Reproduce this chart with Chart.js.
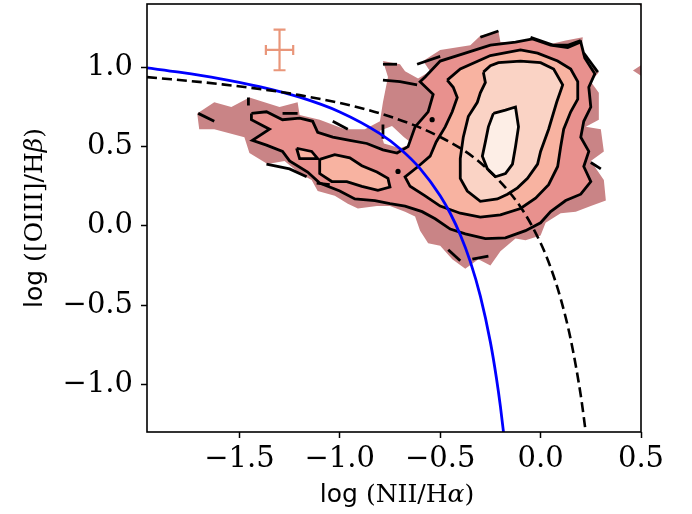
<!DOCTYPE html>
<html>
<head>
<meta charset="utf-8">
<script src="https://cdn.jsdelivr.net/npm/chart.js@4.4.0/dist/chart.umd.min.js"></script>
<style>html,body{margin:0;padding:0;background:#fff}</style>
</head>
<body>
<canvas id="c" width="692" height="514"></canvas>
<script>
// Axis limits and tick values
const xLimits = [-1.96, 0.5];
const yLimits = [-1.3, 1.4];
const xTicks = [-1.5, -1.0, -0.5, 0.0, 0.5];
const yTicks = [-1.0, -0.5, 0.0, 0.5, 1.0];

// Kauffmann et al. (2003) demarcation, sampled
const kauffX = [-1.96, -1.8, -1.6, -1.4, -1.2, -1.0, -0.8, -0.7, -0.6, -0.5, -0.45, -0.4, -0.35, -0.3, -0.25, -0.22, -0.2, -0.18];
const kauffY = [0.997, 0.970, 0.930, 0.879, 0.812, 0.719, 0.582, 0.487, 0.362, 0.191, 0.080, -0.056, -0.225, -0.443, -0.733, -0.959, -1.140, -1.352];

// Kewley et al. (2001) maximum starburst line, sampled
const kewleyX = [-1.96, -1.6, -1.2, -0.8, -0.5, -0.3, -0.1, 0.0, 0.05, 0.1, 0.15, 0.2, 0.23];
const kewleyY = [0.939, 0.895, 0.825, 0.710, 0.561, 0.398, 0.120, -0.108, -0.262, -0.459, -0.716, -1.069, -1.352];

// Typical uncertainty marker
const errCenter = [-1.30, 1.11];
const errHalf = [0.068, 0.128];

// Density contour levels (outermost to innermost)
const level1 = [[-1.71,0.71],[-1.625,0.78],[-1.54,0.75],[-1.45,0.81],[-1.375,0.78],[-1.30,0.75],[-1.21,0.78],[-1.20,0.70],[-1.10,0.67],[-0.975,0.61],[-0.875,0.61],[-0.80,0.66],[-0.785,0.78],[-0.76,0.94],[-0.785,1.04],[-0.70,1.02],[-0.675,0.975],[-0.61,0.93],[-0.55,0.975],[-0.585,1.04],[-0.50,1.11],[-0.35,1.14],[-0.30,1.20],[-0.21,1.23],[-0.20,1.16],[-0.10,1.16],[0.025,1.14],[0.125,1.17],[0.21,1.19],[0.20,1.06],[0.29,0.97],[0.25,0.91],[0.29,0.84],[0.29,0.67],[0.225,0.625],[0.30,0.61],[0.315,0.47],[0.25,0.41],[0.315,0.29],[0.325,0.16],[0.25,0.125],[0.175,0.09],[0.10,0.08],[0.025,0.02],[0.0,-0.06],[-0.075,-0.09],[-0.125,-0.08],[-0.20,-0.16],[-0.25,-0.25],[-0.31,-0.21],[-0.375,-0.27],[-0.44,-0.21],[-0.50,-0.125],[-0.56,-0.11],[-0.60,-0.03],[-0.625,0.06],[-0.675,0.09],[-0.75,0.125],[-0.815,0.125],[-0.91,0.11],[-0.96,0.14],[-1.025,0.19],[-1.11,0.22],[-1.14,0.29],[-1.20,0.33],[-1.275,0.41],[-1.36,0.39],[-1.45,0.46],[-1.475,0.56],[-1.625,0.61],[-1.70,0.61]];
const level1b = [[0.46,0.98],[0.52,1.03],[0.52,0.93]];
const level1c = [[0.48,1.41],[0.52,1.36],[0.52,1.42]];
const gaps = [
  [[-0.80,0.60],[-0.74,0.63],[-0.68,0.56],[-0.64,0.52],[-0.70,0.49],[-0.78,0.52]]
];
const level2 = [[-1.44,0.71],[-1.365,0.72],[-1.285,0.67],[-1.20,0.68],[-1.135,0.66],[-1.11,0.59],[-1.035,0.56],[-0.95,0.54],[-0.865,0.52],[-0.785,0.48],[-0.715,0.46],[-0.66,0.50],[-0.625,0.625],[-0.56,0.72],[-0.535,0.83],[-0.60,0.91],[-0.575,0.94],[-0.50,1.04],[-0.375,1.09],[-0.25,1.14],[-0.125,1.16],[-0.04,1.18],[0.05,1.14],[0.135,1.125],[0.20,1.16],[0.22,1.06],[0.27,0.96],[0.24,0.875],[0.25,0.75],[0.215,0.66],[0.20,0.56],[0.24,0.47],[0.215,0.375],[0.25,0.28],[0.20,0.20],[0.125,0.16],[0.05,0.09],[0.0,0.02],[-0.075,-0.03],[-0.175,-0.075],[-0.275,-0.08],[-0.375,-0.05],[-0.45,-0.02],[-0.525,0.045],[-0.59,0.09],[-0.675,0.125],[-0.75,0.14],[-0.825,0.16],[-0.925,0.17],[-1.00,0.22],[-1.10,0.27],[-1.16,0.34],[-1.25,0.41],[-1.285,0.47],[-1.365,0.51],[-1.435,0.54],[-1.35,0.61],[-1.44,0.67]];
const level3 = [[-0.465,0.92],[-0.40,0.99],[-0.25,1.075],[-0.10,1.11],[-0.015,1.09],[0.085,1.04],[0.15,0.99],[0.185,0.91],[0.185,0.80],[0.15,0.72],[0.115,0.61],[0.10,0.50],[0.085,0.375],[0.04,0.26],[-0.025,0.175],[-0.10,0.11],[-0.20,0.07],[-0.30,0.055],[-0.40,0.08],[-0.50,0.125],[-0.575,0.19],[-0.65,0.25],[-0.675,0.31],[-0.61,0.375],[-0.55,0.44],[-0.52,0.53],[-0.475,0.625],[-0.44,0.72],[-0.415,0.81],[-0.435,0.875]];
const level3b = [[-1.10,0.42],[-1.025,0.45],[-0.95,0.43],[-0.89,0.38],[-0.815,0.34],[-0.76,0.30],[-0.75,0.245],[-0.81,0.225],[-0.89,0.25],[-0.965,0.28],[-1.04,0.28],[-1.10,0.33]];
const level3c = [[-1.215,0.49],[-1.14,0.47],[-1.11,0.425],[-1.20,0.425]];
const level4 = [[-0.285,0.97],[-0.25,1.01],[-0.21,1.03],[-0.10,1.04],[0.0,1.03],[0.065,0.99],[0.11,0.89],[0.08,0.78],[0.04,0.61],[0.0,0.47],[-0.015,0.39],[-0.065,0.30],[-0.115,0.24],[-0.165,0.20],[-0.215,0.17],[-0.30,0.155],[-0.365,0.22],[-0.40,0.30],[-0.40,0.425],[-0.385,0.56],[-0.36,0.69],[-0.315,0.78],[-0.30,0.84],[-0.275,0.905]];
const level5 = [[-0.235,0.71],[-0.175,0.73],[-0.125,0.75],[-0.11,0.625],[-0.125,0.50],[-0.14,0.39],[-0.175,0.33],[-0.225,0.31],[-0.265,0.36],[-0.29,0.44],[-0.275,0.53],[-0.26,0.625]];

// Broken pieces of the lowest contour line along the outskirts
const edgePieces = [
  [[-1.705,0.71],[-1.625,0.66]],
  [[-1.455,0.81],[-1.455,0.76]],
  [[-1.285,0.71],[-1.21,0.71]],
  [[-1.035,0.66],[-0.96,0.61]],
  [[-0.785,0.64],[-0.785,0.55]],
  [[-1.365,0.39],[-1.25,0.36],[-1.165,0.31]],
  [[-1.115,0.27],[-1.05,0.26]],
  [[-0.30,1.19],[-0.21,1.23]],
  [[-0.05,1.19],[0.065,1.14],[0.135,1.14],[0.20,1.17]],
  [[0.215,1.09],[0.285,0.97]],
  [[-0.785,1.02],[-0.715,1.02]],
  [[-0.615,1.02],[-0.50,1.07]],
  [[-0.785,0.92],[-0.70,0.91],[-0.615,0.89]],
  [[-0.46,-0.15],[-0.40,-0.22]],
  [[-0.34,-0.21],[-0.26,-0.19]],
  [[0.25,0.40],[0.30,0.36]]
];
// Tiny closed contours
const dots = [[-0.54,0.67],[-0.71,0.344]];

const fillColors = ['#c98486', '#e8918e', '#f8b3a1', '#fad3c5', '#fdeee6'];

const pts = a => a.map(p => ({x: p[0], y: p[1]}));
const closed = a => pts(a.concat([a[0]]));
const zip = (xs, ys) => xs.map((x, i) => ({x, y: ys[i]}));
const fmt = v => (v < 0 ? '\u2212' : '') + Math.abs(v).toFixed(1);

const contourWidth = 2.8;

function area(data, color, order) {
  return {data: pts(data), showLine: true, fill: 'shape', backgroundColor: color,
          borderWidth: 0, borderColor: 'rgba(0,0,0,0)', pointRadius: 0, order};
}
function outline(data, order) {
  return {data: closed(data), showLine: true, fill: false, borderColor: '#000',
          borderWidth: contourWidth, pointRadius: 0, order};
}
function piece(data) {
  return {data: pts(data), showLine: true, fill: false, borderColor: '#000',
          borderWidth: contourWidth, pointRadius: 0, order: 5};
}

const datasets = [
  area(level1, fillColors[0], 21),
  area(level1b, fillColors[0], 21),
  area(level1c, fillColors[0], 21),
  ...gaps.map(g => area(g, '#fefefe', 20)),
  area(level2, fillColors[1], 19),
  area(level3, fillColors[2], 18),
  area(level3b, fillColors[2], 18),
  area(level3c, fillColors[2], 18),
  area(level4, fillColors[3], 17),
  area(level5, fillColors[4], 16),
  outline(level2, 6), outline(level3, 6), outline(level3b, 6), outline(level3c, 6),
  outline(level4, 6), outline(level5, 6),
  ...edgePieces.map(piece),
  {data: pts(dots), showLine: false, pointRadius: 2.6, pointBackgroundColor: '#000', pointBorderWidth: 0, order: 5},
  {data: zip(kauffX, kauffY), showLine: true, fill: false, borderColor: '#0000ff', borderWidth: 2.8,
   pointRadius: 0, cubicInterpolationMode: 'monotone', order: 2},
  {data: zip(kewleyX, kewleyY), showLine: true, fill: false, borderColor: '#000', borderWidth: 2.6,
   borderDash: [10, 5], pointRadius: 0, cubicInterpolationMode: 'monotone', order: 1}
];

// Frame, axis titles and the uncertainty cross
const decorations = {
  id: 'decorations',
  afterDatasetsDraw(chart) {
    const {ctx, scales: {x, y}} = chart;
    const cx = x.getPixelForValue(errCenter[0]), cy = y.getPixelForValue(errCenter[1]);
    const x0 = x.getPixelForValue(errCenter[0] - errHalf[0]), x1 = x.getPixelForValue(errCenter[0] + errHalf[0]);
    const y0 = y.getPixelForValue(errCenter[1] + errHalf[1]), y1 = y.getPixelForValue(errCenter[1] - errHalf[1]);
    ctx.save();
    ctx.strokeStyle = '#e9967a';
    ctx.lineWidth = 2.2;
    ctx.beginPath();
    ctx.moveTo(x0, cy); ctx.lineTo(x1, cy);
    ctx.moveTo(cx, y0); ctx.lineTo(cx, y1);
    ctx.moveTo(x0, cy - 5); ctx.lineTo(x0, cy + 5);
    ctx.moveTo(x1, cy - 5); ctx.lineTo(x1, cy + 5);
    ctx.moveTo(cx - 6, y0); ctx.lineTo(cx + 6, y0);
    ctx.moveTo(cx - 6, y1); ctx.lineTo(cx + 6, y1);
    ctx.stroke();
    ctx.restore();
  },
  afterDraw(chart) {
    const {ctx, chartArea: a} = chart;
    ctx.save();
    ctx.strokeStyle = '#000';
    ctx.lineWidth = 1.6;
    ctx.strokeRect(a.left, a.top, a.right - a.left, a.bottom - a.top);

    const drawParts = (parts, cx, cy, rot) => {
      ctx.save();
      ctx.translate(cx, cy);
      ctx.rotate(rot);
      let w = 0;
      parts.forEach(p => { ctx.font = p[1]; w += ctx.measureText(p[0]).width; });
      let px = -w / 2;
      ctx.fillStyle = '#000';
      ctx.textBaseline = 'alphabetic';
      parts.forEach(p => { ctx.font = p[1]; ctx.fillText(p[0], px, 0); px += ctx.measureText(p[0]).width; });
      ctx.restore();
    };
    const sans = '25px "DejaVu Sans"', serif = '25px "DejaVu Serif"', ital = 'italic 25px "DejaVu Serif"';
    drawParts([['log', sans], [' (NII/H', serif], ['\u03b1', ital], [')', serif]],
              (a.left + a.right) / 2 + 3, 502, 0);
    drawParts([['log', sans], [' ([OIII]/H', serif], ['\u03b2', ital], [')', serif]],
              42, (a.top + a.bottom) / 2, -Math.PI / 2);
    ctx.restore();
  }
};

const tickFont = {family: 'DejaVu Serif', size: 29};

new Chart(document.getElementById('c'), {
  type: 'scatter',
  data: {datasets},
  options: {
    responsive: false,
    animation: false,
    events: [],
    layout: {padding: {left: 0, right: 51, top: 2, bottom: 0}},
    plugins: {legend: {display: false}, tooltip: {enabled: false}},
    scales: {
      x: {
        type: 'linear', min: xLimits[0], max: xLimits[1],
        afterBuildTicks: s => { s.ticks = xTicks.map(v => ({value: v})); },
        afterFit: s => { s.height = 82; s.paddingLeft = 0; s.paddingRight = 0; },
        ticks: {callback: v => fmt(v), font: tickFont, color: '#000', padding: 4, maxRotation: 0, autoSkip: false},
        grid: {drawOnChartArea: false, drawTicks: true, tickLength: 6, tickWidth: 1.5, tickColor: '#000'},
        border: {display: false}
      },
      y: {
        type: 'linear', min: yLimits[0], max: yLimits[1],
        afterBuildTicks: s => { s.ticks = yTicks.map(v => ({value: v})); },
        afterFit: s => { s.width = 147; s.paddingTop = 0; s.paddingBottom = 0; },
        ticks: {callback: v => fmt(v), font: tickFont, color: '#000', padding: 8, autoSkip: false},
        grid: {drawOnChartArea: false, drawTicks: true, tickLength: 6, tickWidth: 1.5, tickColor: '#000'},
        border: {display: false}
      }
    }
  },
  plugins: [decorations]
});
</script>
</body>
</html>
